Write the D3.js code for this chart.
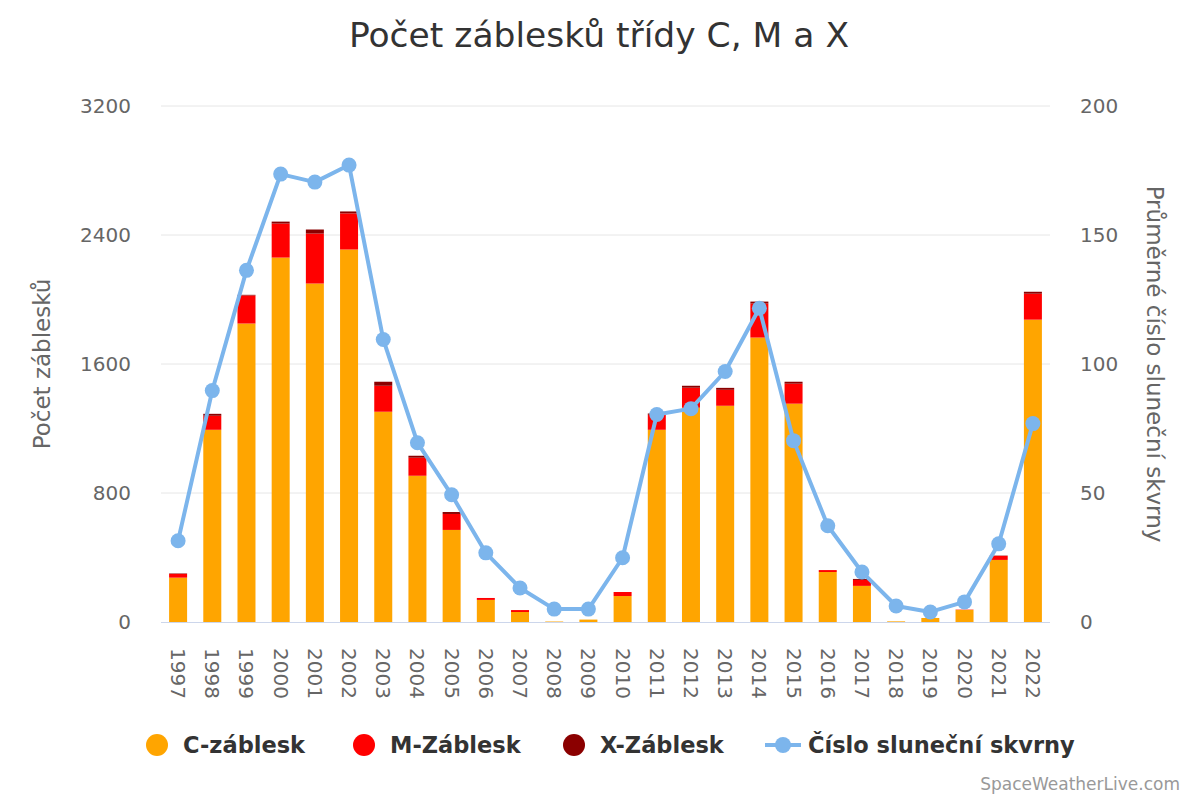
<!DOCTYPE html>
<html>
<head>
<meta charset="utf-8">
<script src="https://cdn.jsdelivr.net/npm/d3@7"></script>
<style>
  body { margin: 0; background: #fff; }
  text { font-family: "DejaVu Sans", sans-serif; }
</style>
</head>
<body>
<svg width="1200" height="800"></svg>
<script>
const years = ["1997","1998","1999","2000","2001","2002","2003","2004","2005","2006","2007","2008","2009",
  "2010","2011","2012","2013","2014","2015","2016","2017","2018","2019","2020","2021","2022"];
const cFlares = [275,1192,1851,2260,2099,2310,1304,907,571,137,62,3,15,161,1192,1329,1341,1764,1354,310,224,4,25,75,385,1875];
const mFlares = [23,87,174,211,310,224,161,112,99,12,12,0,0,25,93,124,99,211,124,12,37,0,0,2,25,161];
const xFlares = [3,12,4,12,25,12,25,12,12,0,0,0,0,0,8,12,12,12,12,0,6,0,0,0,2,12];
const sunspots = [31.5,89.7,136.3,173.6,170.5,177.1,109.5,69.5,49.3,26.8,13.2,5.0,5.0,24.9,80.4,82.7,97.1,121.6,70.3,37.3,19.4,6.2,3.9,7.8,30.3,76.9];
const leftTicks = [0,800,1600,2400,3200];
const rightTicks = [0,50,100,150,200];

const svg = d3.select("svg");
const plotL = 161, plotR = 1050, plotT = 106, plotB = 622;

const x = d3.scaleBand().domain(years).range([plotL, plotR]);
const y = d3.scaleLinear().domain([0, 3200]).range([plotB, plotT]);
const y2 = d3.scaleLinear().domain([0, 200]).range([plotB, plotT]);

// gridlines
svg.append("g")
  .selectAll("line")
  .data(leftTicks.slice(1))
  .enter()
  .append("line")
    .attr("x1", plotL).attr("x2", plotR)
    .attr("y1", (d) => y(d)).attr("y2", (d) => y(d))
    .attr("stroke", "#e6e6e6").attr("stroke-width", 1);

// stacked bars
const rows = years.map((yr, i) => ({ year: yr, c: cFlares[i], m: mFlares[i], x: xFlares[i] }));
const stack = d3.stack().keys(["c", "m", "x"])(rows);
const colors = { c: "#FFA500", m: "#FF0000", x: "#8B0000" };
const barW = 18;

svg.append("g")
  .selectAll("g")
  .data(stack)
  .enter()
  .append("g")
    .attr("fill", (s) => colors[s.key])
  .selectAll("rect")
  .data((s) => s)
  .enter()
  .append("rect")
    .attr("x", (d) => x(d.data.year) + x.bandwidth()/2 - barW/2)
    .attr("width", barW)
    .attr("y", (d) => y(d[1]))
    .attr("height", (d) => y(d[0]) - y(d[1]));

// x axis line
svg.append("line")
  .attr("x1", plotL).attr("x2", plotR)
  .attr("y1", plotB + 0.5).attr("y2", plotB + 0.5)
  .attr("stroke", "#ccd6eb").attr("stroke-width", 1);

// sunspot line
const line = d3.line()
  .x((d, i) => x(years[i]) + x.bandwidth()/2)
  .y((d) => y2(d));

svg.append("path")
  .datum(sunspots)
  .attr("d", line)
  .attr("fill", "none")
  .attr("stroke", "#7CB5EC")
  .attr("stroke-width", 4)
  .attr("stroke-linejoin", "round");

svg.append("g")
  .selectAll("circle")
  .data(sunspots)
  .enter()
  .append("circle")
    .attr("cx", (d, i) => x(years[i]) + x.bandwidth()/2)
    .attr("cy", (d) => y2(d))
    .attr("r", 7.5)
    .attr("fill", "#7CB5EC");

// left axis labels
svg.append("g")
  .selectAll("text")
  .data(leftTicks)
  .enter()
  .append("text")
    .attr("x", 131).attr("y", (d) => y(d))
    .attr("dy", "0.35em")
    .attr("text-anchor", "end")
    .attr("font-size", 20).attr("fill", "#666")
    .text((d) => d);

// right axis labels
svg.append("g")
  .selectAll("text")
  .data(rightTicks)
  .enter()
  .append("text")
    .attr("x", 1080).attr("y", (d) => y2(d))
    .attr("dy", "0.35em")
    .attr("text-anchor", "start")
    .attr("font-size", 20).attr("fill", "#666")
    .text((d) => d);

// x labels, rotated clockwise
svg.append("g")
  .selectAll("text")
  .data(years)
  .enter()
  .append("text")
    .attr("transform", (d) => `translate(${x(d) + x.bandwidth()/2},648) rotate(90)`)
    .attr("dy", "0.35em")
    .attr("text-anchor", "start")
    .attr("font-size", 20).attr("fill", "#666")
    .text((d) => d);

// axis titles
svg.append("text")
  .attr("transform", `translate(42,${(plotT+plotB)/2}) rotate(-90)`)
  .attr("dy", "0.35em")
  .attr("text-anchor", "middle")
  .attr("font-size", 23).attr("fill", "#666")
  .text("Počet záblesků");

svg.append("text")
  .attr("transform", `translate(1155,${(plotT+plotB)/2}) rotate(90)`)
  .attr("dy", "0.35em")
  .attr("text-anchor", "middle")
  .attr("font-size", 23).attr("fill", "#666")
  .text("Průměrné číslo sluneční skvrny");

// title
svg.append("text")
  .attr("x", 599).attr("y", 47)
  .attr("text-anchor", "middle")
  .attr("font-size", 34.5).attr("fill", "#333")
  .text("Počet záblesků třídy C, M a X");

// legend
const legendItems = [
  { name: "C-záblesk", color: "#FFA500", x: 157 },
  { name: "M-Záblesk", color: "#FF0000", x: 364 },
  { name: "X-Záblesk", color: "#8B0000", x: 574 }
];
const lg = svg.append("g");
legendItems.forEach((d) => {
  lg.append("circle").attr("cx", d.x).attr("cy", 745).attr("r", 11).attr("fill", d.color);
  lg.append("text").attr("x", d.x + 26).attr("y", 745).attr("dy", "0.35em")
    .attr("font-size", 22.5).attr("font-weight", "bold").attr("fill", "#333").text(d.name);
});
lg.append("line").attr("x1", 765).attr("x2", 801).attr("y1", 745).attr("y2", 745)
  .attr("stroke", "#7CB5EC").attr("stroke-width", 4);
lg.append("circle").attr("cx", 783).attr("cy", 745).attr("r", 8).attr("fill", "#7CB5EC");
lg.append("text").attr("x", 808).attr("y", 745).attr("dy", "0.35em")
  .attr("font-size", 22.5).attr("font-weight", "bold").attr("fill", "#333").text("Číslo sluneční skvrny");

// credit
svg.append("text")
  .attr("x", 1180).attr("y", 790)
  .attr("text-anchor", "end")
  .attr("font-size", 17).attr("fill", "#999")
  .text("SpaceWeatherLive.com");
</script>
</body>
</html>
